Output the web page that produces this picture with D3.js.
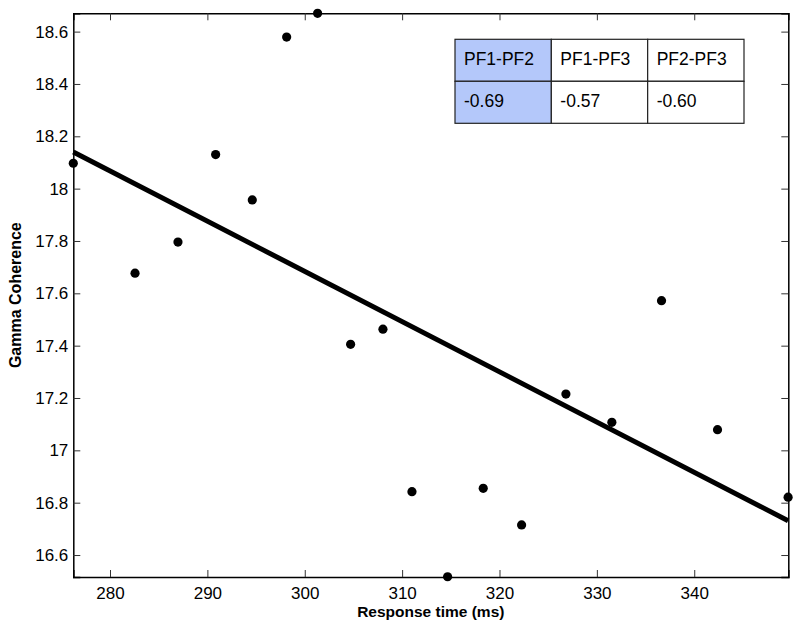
<!DOCTYPE html>
<html>
<head>
<meta charset="utf-8">
<script src="https://cdn.jsdelivr.net/npm/d3@7"></script>
<style>
	body { margin: 0; background: #fff; }
	text { font-family: "Liberation Sans", Arial, Helvetica, sans-serif; }
</style>
</head>
<body>
<div id="chart"></div>
<script>
// scatter points
const responseTime = [276.23, 282.57, 286.98, 290.85, 294.61, 298.14, 301.32, 304.71, 308.03,
	311.01, 314.67, 318.33, 322.27, 326.82, 331.54, 336.64, 342.39, 349.64];
const coherence = [18.097, 17.677, 17.796, 18.130, 17.957, 18.579, 18.670, 17.405, 17.463,
	16.842, 16.517, 16.855, 16.715, 17.215, 17.107, 17.572, 17.079, 16.821];

// fitted line end points
const fitX = [276.23, 349.64];
const fitY = [18.14, 16.731];

const xTicks = [280, 290, 300, 310, 320, 330, 340];
const yTicks = [16.6, 16.8, 17, 17.2, 17.4, 17.6, 17.8, 18, 18.2, 18.4, 18.6];

// correlation table
const pairNames = ["PF1-PF2", "PF1-PF3", "PF2-PF3"];
const pairValues = ["-0.69", "-0.57", "-0.60"];

const margin = { top: 13.3, right: 11.7, bottom: 54, left: 73.3 },
	width = 800 - margin.left - margin.right,
	height = 631 - margin.top - margin.bottom;

const svg = d3.select("#chart")
	.append("svg")
	.attr("width", 800)
	.attr("height", 631)
	.append("g")
	.attr("transform", `translate(${margin.left}, ${margin.top})`);

const x = d3.scaleLinear().domain([276.23, 349.66]).range([0, width]);
const y = d3.scaleLinear().domain([16.516, 18.670]).range([height, 0]);

const fmt = d => String(+d.toFixed(1));

// axes, ticks pointing inward, mirrored on top and right
svg.append("g")
	.attr("transform", `translate(0, ${height})`)
	.call(d3.axisBottom(x).tickValues(xTicks).tickSize(-7).tickPadding(10).tickFormat(fmt));
svg.append("g")
	.call(d3.axisTop(x).tickValues(xTicks).tickSize(-7).tickFormat(""));
svg.append("g")
	.call(d3.axisLeft(y).tickValues(yTicks).tickSize(-7).tickPadding(5).tickFormat(fmt));
svg.append("g")
	.attr("transform", `translate(${width}, 0)`)
	.call(d3.axisRight(y).tickValues(yTicks).tickSize(-7).tickFormat(""));

svg.selectAll(".domain").attr("stroke", "#000").attr("stroke-width", 1.5);
svg.selectAll(".tick line").attr("stroke", "#333");
svg.selectAll(".tick text").attr("font-size", "17px").attr("fill", "#000");

// regression line
svg.append("line")
	.attr("x1", x(fitX[0])).attr("y1", y(fitY[0]))
	.attr("x2", x(fitX[1])).attr("y2", y(fitY[1]))
	.attr("stroke", "#000")
	.attr("stroke-width", 5);

// points
svg.selectAll("circle")
	.data(responseTime)
	.join("circle")
	.attr("cx", d => x(d))
	.attr("cy", (d, i) => y(coherence[i]))
	.attr("r", 4.6)
	.attr("fill", "#000");

// axis titles
svg.append("text")
	.attr("x", width / 2)
	.attr("y", height + 40)
	.attr("text-anchor", "middle")
	.attr("font-size", "15.5px")
	.attr("font-weight", "bold")
	.text("Response time (ms)");

svg.append("text")
	.attr("transform", `translate(${-52}, ${height / 2}) rotate(-90)`)
	.attr("text-anchor", "middle")
	.attr("font-size", "16px")
	.attr("font-weight", "bold")
	.text("Gamma Coherence");

// table of correlations
const colX = d3.scaleBand().domain(pairNames).range([455 - margin.left, 744 - margin.left]);
const rowTop = 39.3 - margin.top, rowH = 42;

const table = svg.append("g");
[pairNames, pairValues].forEach((row, r) => {
	const cells = table.selectAll(`.row${r}`)
		.data(row)
		.join("g")
		.attr("class", `row${r}`)
		.attr("transform", (d, i) => `translate(${colX(pairNames[i])}, ${rowTop + r * rowH})`);
	cells.append("rect")
		.attr("width", colX.bandwidth())
		.attr("height", rowH)
		.attr("fill", (d, i) => i === 0 ? "#b4c8fa" : "#fff")
		.attr("stroke", "#222")
		.attr("stroke-width", 1.2);
	cells.append("text")
		.attr("x", 9)
		.attr("y", rowH / 2 + 5)
		.attr("font-size", "17.5px")
		.attr("fill", "#000")
		.text(d => d);
});
</script>
</body>
</html>
